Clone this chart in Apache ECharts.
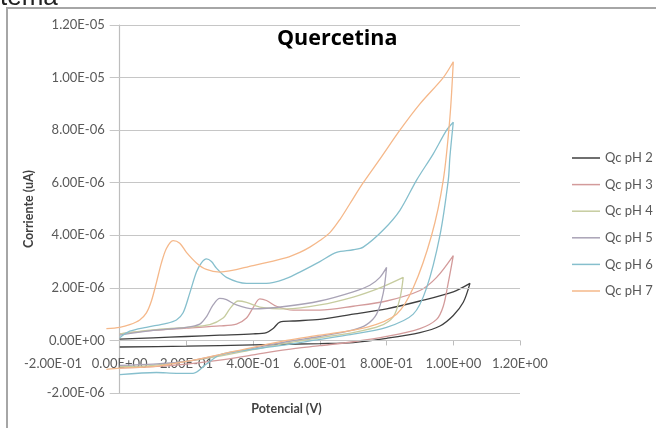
<!DOCTYPE html>
<html>
<head>
<meta charset="utf-8">
<script src="https://cdn.jsdelivr.net/npm/echarts@6/dist/echarts.min.js"></script>
<style>
  html, body { margin: 0; padding: 0; background: #ffffff; }
  #chart { width: 656px; height: 428px; }
</style>
</head>
<body>
<div id="chart"></div>
<script>
// Cyclic voltammograms of quercetin at pH 2-7 (potential in V, current in A)
const seriesNames = ['Qc pH 2', 'Qc pH 3', 'Qc pH 4', 'Qc pH 5', 'Qc pH 6', 'Qc pH 7'];
const xTicks = [-0.2, 0, 0.2, 0.4, 0.6, 0.8, 1.0, 1.2];
const yTicks = [-2e-6, 0, 2e-6, 4e-6, 6e-6, 8e-6, 1e-5, 1.2e-5];

// currents below are written in units of 1e-6 A
const currentUnit = 1e-6;

const pH2Potential = [0, 0.1, 0.2, 0.3, 0.4, 0.44, 0.46, 0.48, 0.52, 0.6, 0.7, 0.8, 0.9, 1.0, 1.05,
                      1.03, 1.0, 0.96, 0.9, 0.8, 0.7, 0.6, 0.4, 0.2, 0];
const pH2Current   = [0.05, 0.1, 0.15, 0.2, 0.25, 0.3, 0.45, 0.7, 0.74, 0.8, 1.0, 1.2, 1.5, 1.85, 2.17,
                      1.45, 0.95, 0.55, 0.3, 0.08, -0.08, -0.12, -0.17, -0.22, -0.25];

const pH3Potential = [0, 0.1, 0.2, 0.3, 0.35, 0.38, 0.4, 0.42, 0.44, 0.47, 0.52, 0.6, 0.7, 0.8, 0.9, 0.95, 1.0,
                      0.985, 0.97, 0.95, 0.9, 0.8, 0.7, 0.6, 0.5, 0.4, 0.3, 0.2, 0.1, 0];
const pH3Current   = [0.25, 0.38, 0.47, 0.55, 0.62, 0.85, 1.25, 1.58, 1.52, 1.3, 1.15, 1.15, 1.3, 1.5, 1.9, 2.4, 3.23,
                      2.2, 1.3, 0.8, 0.45, 0.15, -0.05, -0.2, -0.35, -0.55, -0.75, -0.9, -1.0, -1.05];

const pH4Potential = [0, 0.1, 0.2, 0.27, 0.31, 0.33, 0.355, 0.38, 0.42, 0.5, 0.6, 0.7, 0.78, 0.85,
                      0.84, 0.82, 0.78, 0.7, 0.6, 0.5, 0.4, 0.3, 0.2, 0.1, 0];
const pH4Current   = [0.25, 0.4, 0.5, 0.6, 0.85, 1.2, 1.5, 1.45, 1.27, 1.2, 1.35, 1.65, 2.0, 2.4,
                      1.6, 0.9, 0.55, 0.3, 0.1, -0.1, -0.35, -0.6, -0.8, -0.95, -1.0];

const pH5Potential = [0, 0.1, 0.2, 0.24, 0.26, 0.28, 0.3, 0.32, 0.35, 0.4, 0.5, 0.6, 0.7, 0.75, 0.78, 0.8,
                      0.79, 0.77, 0.74, 0.7, 0.6, 0.5, 0.4, 0.3, 0.2, 0.1, 0];
const pH5Current   = [0.2, 0.38, 0.5, 0.62, 0.9, 1.35, 1.6, 1.55, 1.35, 1.2, 1.3, 1.5, 1.85, 2.1, 2.4, 2.78,
                      1.8, 1.0, 0.6, 0.4, 0.15, -0.05, -0.3, -0.55, -0.8, -0.9, -0.95];

const pH6Potential = [0, 0.03, 0.08, 0.14, 0.17, 0.19, 0.21, 0.23, 0.245, 0.26, 0.275, 0.29, 0.32, 0.38, 0.44, 0.5, 0.54,
                      0.6, 0.65, 0.7, 0.73, 0.79, 0.84, 0.89, 0.94, 0.98, 1.0,
                      0.99, 0.985, 0.96, 0.92, 0.88, 0.8, 0.68, 0.58, 0.48, 0.36, 0.3, 0.26, 0.22, 0.17, 0.11, 0];
const pH6Current   = [0.1, 0.35, 0.5, 0.65, 0.78, 1.05, 1.8, 2.6, 2.95, 3.1, 3.0, 2.75, 2.4, 2.17, 2.17, 2.36, 2.6,
                      3.0, 3.35, 3.45, 3.55, 4.2, 4.95, 6.1, 7.1, 8.0, 8.3,
                      7.0, 6.1, 4.0, 2.0, 1.0, 0.5, 0.2, 0.0, -0.2, -0.4, -0.55, -0.9, -1.25, -1.25, -1.22, -1.3];

const pH7Potential = [-0.04, 0, 0.03, 0.06, 0.08, 0.095, 0.11, 0.125, 0.14, 0.16, 0.18, 0.2, 0.23, 0.26, 0.3, 0.4, 0.5, 0.54,
                      0.57, 0.6, 0.63, 0.66, 0.69, 0.73, 0.78, 0.84, 0.9, 0.97, 1.0,
                      0.99, 0.97, 0.935, 0.88, 0.83, 0.74, 0.6, 0.5, 0.35, 0.2, 0.1, 0, -0.04];
const pH7Current   = [0.45, 0.5, 0.6, 0.78, 1.05, 1.5, 2.2, 2.95, 3.5, 3.8, 3.7, 3.35, 2.95, 2.7, 2.6, 2.85, 3.15, 3.35,
                      3.55, 3.8, 4.1, 4.6, 5.2, 6.0, 6.9, 8.0, 9.0, 10.0, 10.6,
                      8.5, 6.1, 4.0, 2.0, 1.0, 0.5, 0.2, 0.0, -0.4, -0.8, -1.0, -1.05, -1.1];

const potentials = [pH2Potential, pH3Potential, pH4Potential, pH5Potential, pH6Potential, pH7Potential];
const currents   = [pH2Current, pH3Current, pH4Current, pH5Current, pH6Current, pH7Current];
const colors     = ['#3f3f3f', '#d39b9b', '#c6cc9f', '#a9a3b6', '#86bfcd', '#f5b88a'];

const labelFont = 'Lato';

// plot box (px) and the resulting shift that puts each axis where the other crosses zero
const gridBox = { left: 53, right: 136, top: 25, bottom: 35 };
const plotW = 656 - gridBox.left - gridBox.right;
const plotH = 428 - gridBox.top - gridBox.bottom;
const xMin = xTicks[0], xMax = xTicks[xTicks.length - 1];
const yMin = yTicks[0], yMax = yTicks[yTicks.length - 1];
const yAxisShift = -plotW * (0 - xMin) / (xMax - xMin);
const xAxisShift = -plotH * (0 - yMin) / (yMax - yMin);

// 1.20E-05 style labels
function sci(v) {
  const s = Number(v).toExponential(2);
  const parts = s.split('e');
  const n = parseInt(parts[1], 10);
  const a = Math.abs(n);
  return parts[0].toUpperCase() + 'E' + (n < 0 ? '-' : '+') + (a < 10 ? '0' : '') + a;
}

const curveSeries = seriesNames.map(function (name, i) {
  return {
    name: name,
    type: 'line',
    data: potentials[i].map(function (v, k) { return [v, currents[i][k] * currentUnit]; }),
    symbol: 'none',
    showSymbol: false,
    smooth: 0.3,
    z: 3 + i,
    lineStyle: { color: colors[i], width: 1.3 },
    itemStyle: { color: colors[i] }
  };
});

// horizontal gridlines starting just left of the vertical axis
const gridSeries = {
  name: 'gridlines',
  type: 'line',
  data: [],
  silent: true,
  z: 1,
  markLine: {
    silent: true,
    symbol: ['none', 'none'],
    label: { show: false },
    lineStyle: { color: '#c6c6c6', width: 1.2, type: 'solid' },
    data: yTicks.map(function (t) { return [{ coord: [-0.03, t] }, { coord: [xMax, t] }]; })
  }
};

const chart = echarts.init(document.getElementById('chart'), null, { renderer: 'canvas' });
chart.setOption({
  animation: false,
  backgroundColor: '#ffffff',
  title: {
    text: 'Quercetina',
    left: 272,
    top: 23,
    textStyle: { fontFamily: 'Open Sans', fontWeight: 'bold', fontSize: 21.5, color: '#000000' }
  },
  legend: {
    data: seriesNames,
    orient: 'vertical',
    left: 567,
    top: 146,
    icon: 'rect',
    itemWidth: 28,
    itemHeight: 1.5,
    itemGap: 12.6,
    textStyle: { fontFamily: labelFont, fontSize: 13, lineHeight: 14, color: '#595959' }
  },
  grid: {
    left: gridBox.left, right: gridBox.right, top: gridBox.top, bottom: gridBox.bottom,
    containLabel: false, outerBoundsMode: 'none'
  },
  xAxis: {
    type: 'value',
    min: xMin,
    max: xMax,
    interval: 0.2,
    offset: xAxisShift,
    name: 'Potencial (V)',
    nameLocation: 'middle',
    nameGap: 62,
    nameTextStyle: { fontFamily: labelFont, fontWeight: 'bold', fontSize: 12.5, color: '#404040' },
    axisLine: { show: false, onZero: false },
    axisTick: { show: true, length: 5, customValues: xTicks.slice(1), lineStyle: { color: '#bdbdbd' } },
    axisLabel: { formatter: sci, margin: 17, fontFamily: labelFont, fontSize: 13, color: '#595959' },
    splitLine: { show: false }
  },
  yAxis: {
    type: 'value',
    min: yMin,
    max: yMax,
    interval: 2e-6,
    offset: yAxisShift,
    name: 'Corriente (uA)',
    nameLocation: 'middle',
    nameGap: 77,
    nameRotate: 90,
    nameTextStyle: { fontFamily: labelFont, fontWeight: 'bold', fontSize: 12.5, color: '#404040' },
    axisLine: { show: true, onZero: false, lineStyle: { color: '#bdbdbd', width: 1.2 } },
    axisTick: { show: false },
    axisLabel: { formatter: sci, margin: 15, fontFamily: labelFont, fontSize: 13, color: '#595959' },
    splitLine: { show: false }
  },
  graphic: [
    {
      type: 'rect',
      shape: { x: 7, y: 8, width: 700, height: 500 },
      style: { fill: null, stroke: '#a6a6a6', lineWidth: 2 },
      silent: true
    },
    {
      type: 'text',
      x: 0,
      y: 11,
      style: { text: 'tema', font: '26px "Liberation Sans"', fill: '#222222', verticalAlign: 'bottom' },
      silent: true
    }
  ],
  series: [gridSeries].concat(curveSeries)
});
</script>
</body>
</html>
